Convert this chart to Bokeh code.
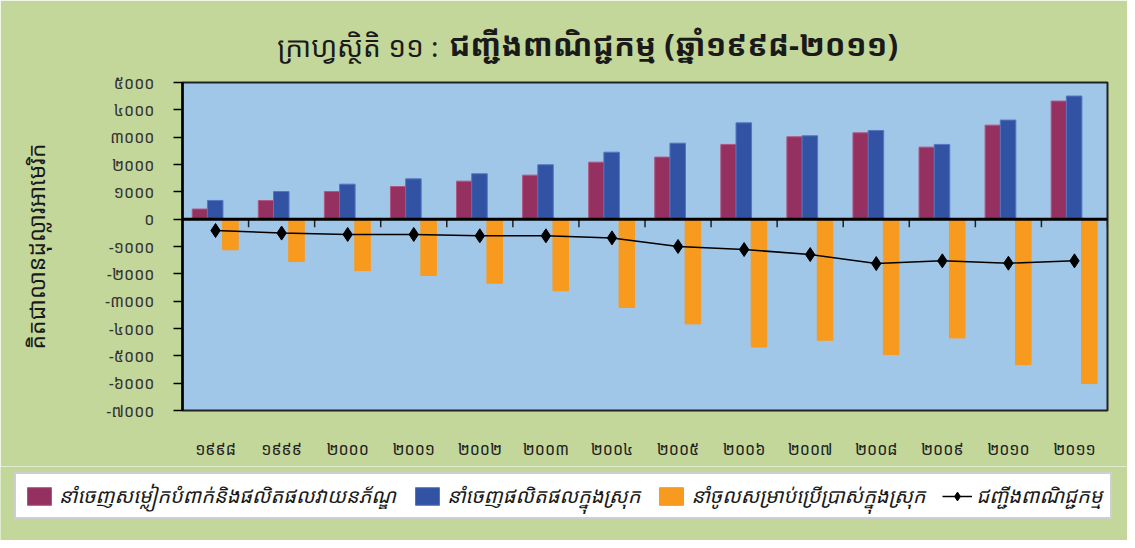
import numpy as np
from bokeh.plotting import figure
from bokeh.layouts import column
from bokeh.models import Range1d, FixedTicker, Span, Label, Legend, LegendItem, ColumnDataSource
from bokeh.embed import file_html
from bokeh.resources import INLINE

# ---------------- data ----------------
years = ["១៩៩៨", "១៩៩៩", "២០០០", "២០០១", "២០០២", "២០០៣", "២០០៤",
         "២០០៥", "២០០៦", "២០០៧", "២០០៨", "២០០៩", "២០១០", "២០១១"]
garment_exports = [370, 680, 1010, 1195, 1390, 1610, 2085, 2270, 2735, 3015, 3160, 2635, 3440, 4320]
domestic_exports = [685, 1010, 1280, 1475, 1660, 1990, 2450, 2780, 3525, 3050, 3245, 2735, 3625, 4505]
retained_imports = [-1120, -1550, -1880, -2060, -2340, -2620, -3230, -3830, -4675, -4430, -4955, -4345, -5320, -6015]
trade_balance = [-415, -510, -560, -560, -610, -610, -685, -1000, -1110, -1295, -1625, -1525, -1610, -1525]
y_ticks = [-7000, -6000, -5000, -4000, -3000, -2000, -1000, 0, 1000, 2000, 3000, 4000, 5000]
y_tick_labels = ["-៧០០០", "-៦០០០", "-៥០០០", "-៤០០០", "-៣០០០", "-២០០០", "-១០០០",
                 "០", "១០០០", "២០០០", "៣០០០", "៤០០០", "៥០០០"]
series_names = ["នាំចេញសម្លៀកបំពាក់និងផលិតផលវាយនភ័ណ្ឌ",
                "នាំចេញផលិតផលក្នុងស្រុក",
                "នាំចូលសម្រាប់ប្រើប្រាស់ក្នុងស្រុក",
                "ជញ្ជីងពាណិជ្ជកម្ម"]
title_a = "ក្រាហ្វស្ថិតិ ១១ :"
title_b = "ជញ្ជីងពាណិជ្ជកម្ម  (ឆ្នាំ១៩៩៨-២០១១)"
y_title = "គិតជាលានដុល្លារអាមេរិក"

KH = "Khmer OS Siemreap, Noto Sans Khmer, Noto Serif Khmer, Khmer OS, DejaVu Sans, sans-serif"
GREEN = "#C4D79B"
BLUE_BG = "#A0C6E8"
C_GAR = "#953160"
C_DOM = "#3253A4"
C_IMP = "#F89A1E"
E_GAR = "#B0567F"
E_DOM = "#5576BF"

idx = np.arange(len(years))
src = ColumnDataSource(dict(x=idx, gar=garment_exports, dom=domestic_exports,
                            imp=retained_imports, bal=trade_balance))

W = 1127
H_MAIN = 466
H_LEG = 540 - H_MAIN

p = figure(width=W, height=H_MAIN, output_backend="svg", toolbar_location=None,
           x_range=Range1d(-0.5, len(years) - 0.5), y_range=Range1d(-7000, 5000),
           min_border_left=182, min_border_right=20, min_border_top=82,
           min_border_bottom=H_MAIN - 410)
p.frame_align = False
p.background_fill_color = BLUE_BG
p.border_fill_color = GREEN
p.outline_line_color = "#222222"
p.outline_line_width = 2
p.grid.visible = False

bw = 0.235
p.vbar(x=idx - 0.235, top=garment_exports, width=bw, fill_color=C_GAR, line_color=E_GAR, line_width=1)
p.vbar(x=idx - 0.005, top=domestic_exports, width=bw, fill_color=C_DOM, line_color=E_DOM, line_width=1)
p.vbar(x=idx + 0.225, top=retained_imports, width=bw, fill_color=C_IMP, line_color=C_IMP, line_width=1)

p.add_layout(Span(location=0, dimension="width", line_color="black", line_width=3))
p.segment(x0=idx + 0.5, y0=0, x1=idx + 0.5, y1=-300, line_color="#222222", line_width=1.5)

p.line(x="x", y="bal", source=src, line_color="black", line_width=1.5)
p.scatter(x="x", y="bal", source=src, marker="diamond", size=14, color="black")

# axes
xa = p.xaxis[0]
xa.ticker = FixedTicker(ticks=list(idx))
xa.major_label_overrides = {int(i): years[i] for i in idx}
xa.axis_line_color = None
xa.major_tick_line_color = None
xa.minor_tick_line_color = None
xa.major_label_standoff = 21
xa.major_label_text_font = KH
xa.major_label_text_font_size = "16px"
xa.major_label_text_color = "#222222"

ya = p.yaxis[0]
ya.ticker = FixedTicker(ticks=y_ticks)
ya.major_label_overrides = {t: l for t, l in zip(y_ticks, y_tick_labels)}
ya.axis_line_color = "black"
ya.axis_line_width = 2.5
ya.major_tick_out = 9
ya.major_tick_in = 0
ya.major_tick_line_width = 1.5
ya.minor_tick_line_color = None
ya.major_label_standoff = 19
ya.major_label_text_font = KH
ya.major_label_text_font_size = "16px"
ya.major_label_text_color = "#333333"
ya.axis_label = y_title
ya.axis_label_text_font = KH
ya.axis_label_text_font_size = "23px"
ya.axis_label_text_font_style = "normal"
ya.axis_label_text_color = "#1a1a1a"
ya.axis_label_standoff = 50

# title: two labels stacked in the panel above the frame, shifted onto one line
p.add_layout(Label(x=256, y=37, x_units="screen", y_units="screen", text=title_a,
                   text_font=KH, text_font_size="28px", text_align="right",
                   text_baseline="middle", text_color="#1a1a1a"), "above")
p.add_layout(Label(x=495, y=1, x_units="screen", y_units="screen", text=title_b,
                   text_font=KH, text_font_size="31px", text_align="center",
                   text_baseline="middle", text_color="#1a1a1a",
                   text_font_style="bold"), "above")

# ---------------- legend strip ----------------
q = figure(width=W, height=H_LEG, output_backend="svg", toolbar_location=None,
           x_range=Range1d(0, 1), y_range=Range1d(0, 1),
           x_axis_location=None, y_axis_location=None,
           min_border_left=0, min_border_right=0, min_border_top=0, min_border_bottom=0)
q.frame_align = False
q.background_fill_color = GREEN
q.border_fill_color = GREEN
q.outline_line_color = None
q.grid.visible = False
# legend-only renderers (their single point lies outside the visible range)
g1 = q.vbar(x=[5], top=[1], width=0.1, fill_color=C_GAR, line_color=E_GAR)
g2 = q.vbar(x=[5], top=[1], width=0.1, fill_color=C_DOM, line_color=E_DOM)
g3 = q.vbar(x=[5], top=[1], width=0.1, fill_color=C_IMP, line_color=C_IMP)
g4 = q.line(x=[5, 6], y=[5, 5], line_color="black", line_width=1.5)
g5 = q.scatter(x=[5], y=[5], marker="diamond", size=11, color="black")

legend = Legend(items=[LegendItem(label=series_names[0], renderers=[g1]),
                       LegendItem(label=series_names[1], renderers=[g2]),
                       LegendItem(label=series_names[2], renderers=[g3]),
                       LegendItem(label=series_names[3], renderers=[g4, g5])],
                orientation="horizontal", location=(14, 21))
legend.background_fill_color = "white"
legend.background_fill_alpha = 1
legend.border_line_color = "#A0A0A0"
legend.border_line_width = 2
legend.label_text_font = KH
legend.label_text_font_size = "20px"
legend.label_text_font_style = "italic"
legend.label_text_color = "#1a1a1a"
legend.glyph_width = 30
legend.glyph_height = 22
legend.padding = 8
legend.spacing = 16
legend.label_standoff = 5
legend.margin = 0
q.add_layout(legend)

layout = column(p, q, spacing=0)
open("out.html", "w").write(file_html(layout, INLINE))
